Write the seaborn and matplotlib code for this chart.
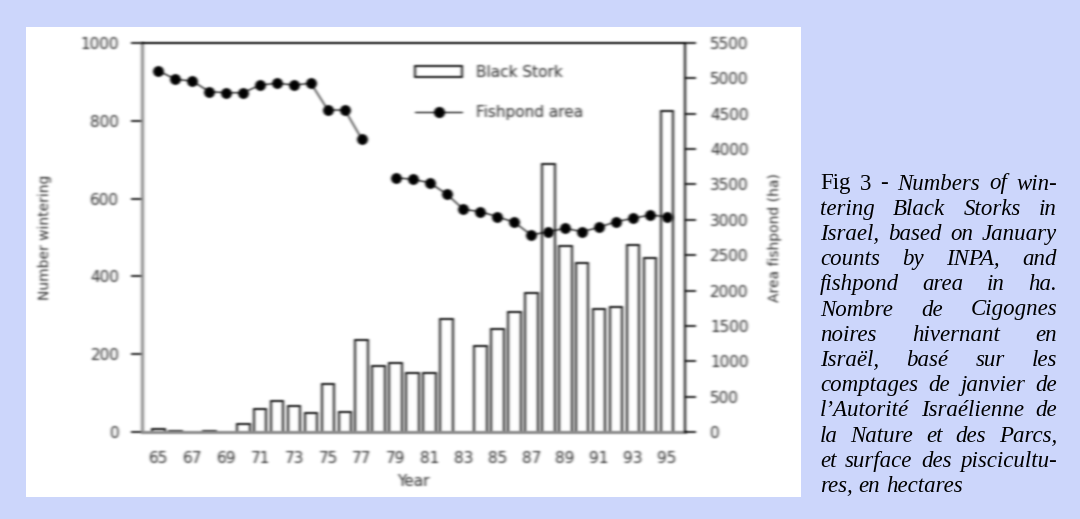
import numpy as np
import pandas as pd
import matplotlib
matplotlib.use("Agg")
import matplotlib.pyplot as plt
import seaborn as sns
from matplotlib.patches import Patch, Rectangle
from matplotlib.lines import Line2D

# ---- data ---------------------------------------------------------------
years = list(range(1965, 1996))
tick_labels = [f"{y % 100:02d}" if y % 2 == 1 else "" for y in years]

black_storks = [8, 3, 0, 3, 0, 20, 59, 80, 67, 48,
                123, 52, 236, 170, 178, 152, 152, 290, 0, 221,
                265, 309, 357, 690, 478, 434, 315, 322, 481, 448,
                825]

fishpond_area = [5108, 4986, 4962, 4812, 4797, 4797, 4906, 4930, 4906, 4930,
                 4552, 4552, 4142, np.nan, 3596, 3572, 3525, 3365, 3148, 3115,
                 3044, 2965, 2785, 2832, 2880, 2832, 2894, 2974, 3021, 3068,
                 3044]

caption_lines = [
    "Fig 3 - Numbers of win-",
    "tering Black Storks in",
    "Israel, based on January",
    "counts by INPA, and",
    "fishpond area in ha.",
    "Nombre de Cigognes",
    "noires hivernant en",
    "Israël, basé sur les",
    "comptages de janvier de",
    "l\u2019Autorité Israélienne de",
    "la Nature et des Parcs,",
    "et surface des piscicultu-",
    "res, en hectares",
]
caption_upright_words = 3  # "Fig 3 -" is set upright, the rest italic

# ---- styling ------------------------------------------------------------
sns.set_style("white")
plt.rcParams["font.family"] = ["DejaVu Sans"]

W, H = 1080, 519
fig = plt.figure(figsize=(W / 100, H / 100), dpi=100)
fig.patch.set_facecolor("#ccd6fb")

# white panel behind the chart
fig.patches.append(Rectangle((26 / W, 1 - 497 / H), (801 - 26) / W, (497 - 27) / H,
                             transform=fig.transFigure, facecolor="white",
                             edgecolor="none", zorder=-10))


def _kernel(sigma):
    r = max(1, int(np.ceil(3 * sigma)))
    k = np.exp(-0.5 * (np.arange(-r, r + 1) / sigma) ** 2)
    return k / k.sum(), r


def soften(image, dpi, sx=1.4, sy=0.9):
    """Gaussian blur applied to the rendered chart layer (premultiplied alpha)."""
    img = np.asarray(image, dtype=float)
    kx, rx = _kernel(sx)
    ky, ry = _kernel(sy)
    pad = max(rx, ry)
    a = img[..., 3:4]
    pm = np.concatenate([img[..., :3] * a, a], axis=-1)
    pm = np.pad(pm, ((pad, pad), (pad, pad), (0, 0)))
    out = np.zeros_like(pm)
    for i, w in enumerate(kx):
        out += w * np.roll(pm, i - rx, axis=1)
    pm = out
    out = np.zeros_like(pm)
    for i, w in enumerate(ky):
        out += w * np.roll(pm, i - ry, axis=0)
    alpha = out[..., 3:4]
    rgb = np.where(alpha > 1e-6, out[..., :3] / np.maximum(alpha, 1e-6), 0.0)
    res = np.concatenate([np.clip(rgb, 0, 1), np.clip(alpha, 0, 1)], axis=-1)
    return res, -pad, -pad


ax = fig.add_axes([141.5 / W, 1 - 432 / H, (685 - 141.5) / W, (432 - 43) / H])
ax.set_facecolor("none")

df = pd.DataFrame({"year": years, "storks": black_storks, "area": fishpond_area})
df["pos"] = np.arange(len(df))
df["segment"] = df["area"].isna().cumsum()

sns.barplot(data=df, x="year", y="storks", color="white", saturation=1,
            edgecolor="black", linewidth=1.3, width=0.75, errorbar=None, ax=ax)

ax2 = ax.twinx()
line_df = df.dropna(subset=["area"])
sns.lineplot(data=line_df, x="pos", y="area", units="segment", estimator=None,
             color="black", linewidth=0.9, marker="o", markersize=7,
             markeredgecolor="black", legend=False, ax=ax2)

# ---- axes ---------------------------------------------------------------
ax.set_xlim(-1.0, 31.07)
ax.set_ylim(0, 1000)
ax2.set_ylim(0, 5500)
ax.set_yticks(range(0, 1001, 200))
ax2.set_yticks(range(0, 5501, 500))
ax.set_xticks(range(len(years)))
ax.set_xticklabels(tick_labels)

label_color = "#2a2a2a"
tick_size = 11
ax.tick_params(axis="y", direction="out", length=8, width=1.3, color="#111111",
               labelcolor=label_color, labelsize=tick_size, pad=8)
ax.tick_params(axis="x", direction="out", length=8, width=1.3, color="#444444",
               labelcolor=label_color, labelsize=tick_size, pad=6)
ax2.tick_params(axis="y", direction="out", length=8, width=1.3, color="#111111",
                labelcolor=label_color, labelsize=tick_size, pad=10)

for side in ["left", "bottom"]:
    ax.spines[side].set_color("#8c8c8c")
    ax.spines[side].set_linewidth(2.2)
ax.spines["top"].set_visible(False)
ax.spines["right"].set_visible(False)
ax2.spines["left"].set_visible(False)
ax2.spines["bottom"].set_visible(False)
ax2.spines["top"].set_color("black")
ax2.spines["top"].set_linewidth(1.4)
ax2.spines["right"].set_color("black")
ax2.spines["right"].set_linewidth(1.4)

ax.set_xlabel("Year", fontsize=11, color=label_color)
ax.xaxis.set_label_coords(0.5, (432 - 482) / 389)
ax.xaxis.label.set_va("center")

ax.set_ylabel("Number wintering", fontsize=10, color=label_color)
ax.yaxis.set_label_coords((45 - 141.5) / 543.5, 0.5)
ax.yaxis.label.set_va("center")

ax2.set_ylabel("Area fishpond (ha)", fontsize=10, color=label_color, rotation=90)
ax2.yaxis.set_label_coords((775 - 141.5) / 543.5, 0.5)
ax2.yaxis.label.set_va("center")

handles = [Patch(facecolor="white", edgecolor="black", linewidth=1.3),
           Line2D([0], [0], color="black", linewidth=0.9, marker="o", markersize=7)]
leg = ax2.legend(handles, ["Black Stork", "Fishpond area"], loc="upper left",
                 bbox_to_anchor=((415 - 141.5) / 543.5, (432 - 65) / 389),
                 frameon=False, fontsize=11, handlelength=3.1, handleheight=0.75,
                 handletextpad=0.9, labelspacing=1.65, borderpad=0, borderaxespad=0)
for t in leg.get_texts():
    t.set_color(label_color)

ax.set_agg_filter(soften)
ax2.set_agg_filter(soften)

# ---- justified caption --------------------------------------------------
renderer = fig.canvas.get_renderer()
x_left, x_right = 820, 1057
base_size = 14.5
serif = ["Liberation Serif", "DejaVu Serif"]


def word_width(word, style, size):
    t = fig.text(0, 0, word, fontsize=size, fontstyle=style, family=serif)
    w = t.get_window_extent(renderer=renderer).width
    t.remove()
    return w


def line_words(i):
    words = caption_lines[i].split(" ")
    styles = ["normal" if (i == 0 and k < caption_upright_words) else "italic"
              for k in range(len(words))]
    return words, styles


space_w = word_width("a a", "italic", base_size) - 2 * word_width("a", "italic", base_size)
ratios = []
for i in range(len(caption_lines) - 1):
    words, styles = line_words(i)
    natural = sum(word_width(w, s, base_size) for w, s in zip(words, styles)) \
        + space_w * (len(words) - 1)
    ratios.append((x_right - x_left) / natural)
size = float(np.clip(base_size * min(ratios), 13.0, 16.5))
space_w *= size / base_size

baseline0, step = 189.5, 25.2
for i in range(len(caption_lines)):
    words, styles = line_words(i)
    widths = [word_width(w, s, size) for w, s in zip(words, styles)]
    if i < len(caption_lines) - 1 and len(words) > 1:
        gap = (x_right - x_left - sum(widths)) / (len(words) - 1)
    else:
        gap = space_w
    x = x_left
    y = baseline0 + i * step
    for w, s, wd in zip(words, styles, widths):
        fig.text(x / W, 1 - y / H, w, fontsize=size, fontstyle=s, family=serif,
                 color="black", ha="left", va="baseline")
        x += wd + gap

fig.savefig("out.png", dpi=100, facecolor=fig.get_facecolor())
